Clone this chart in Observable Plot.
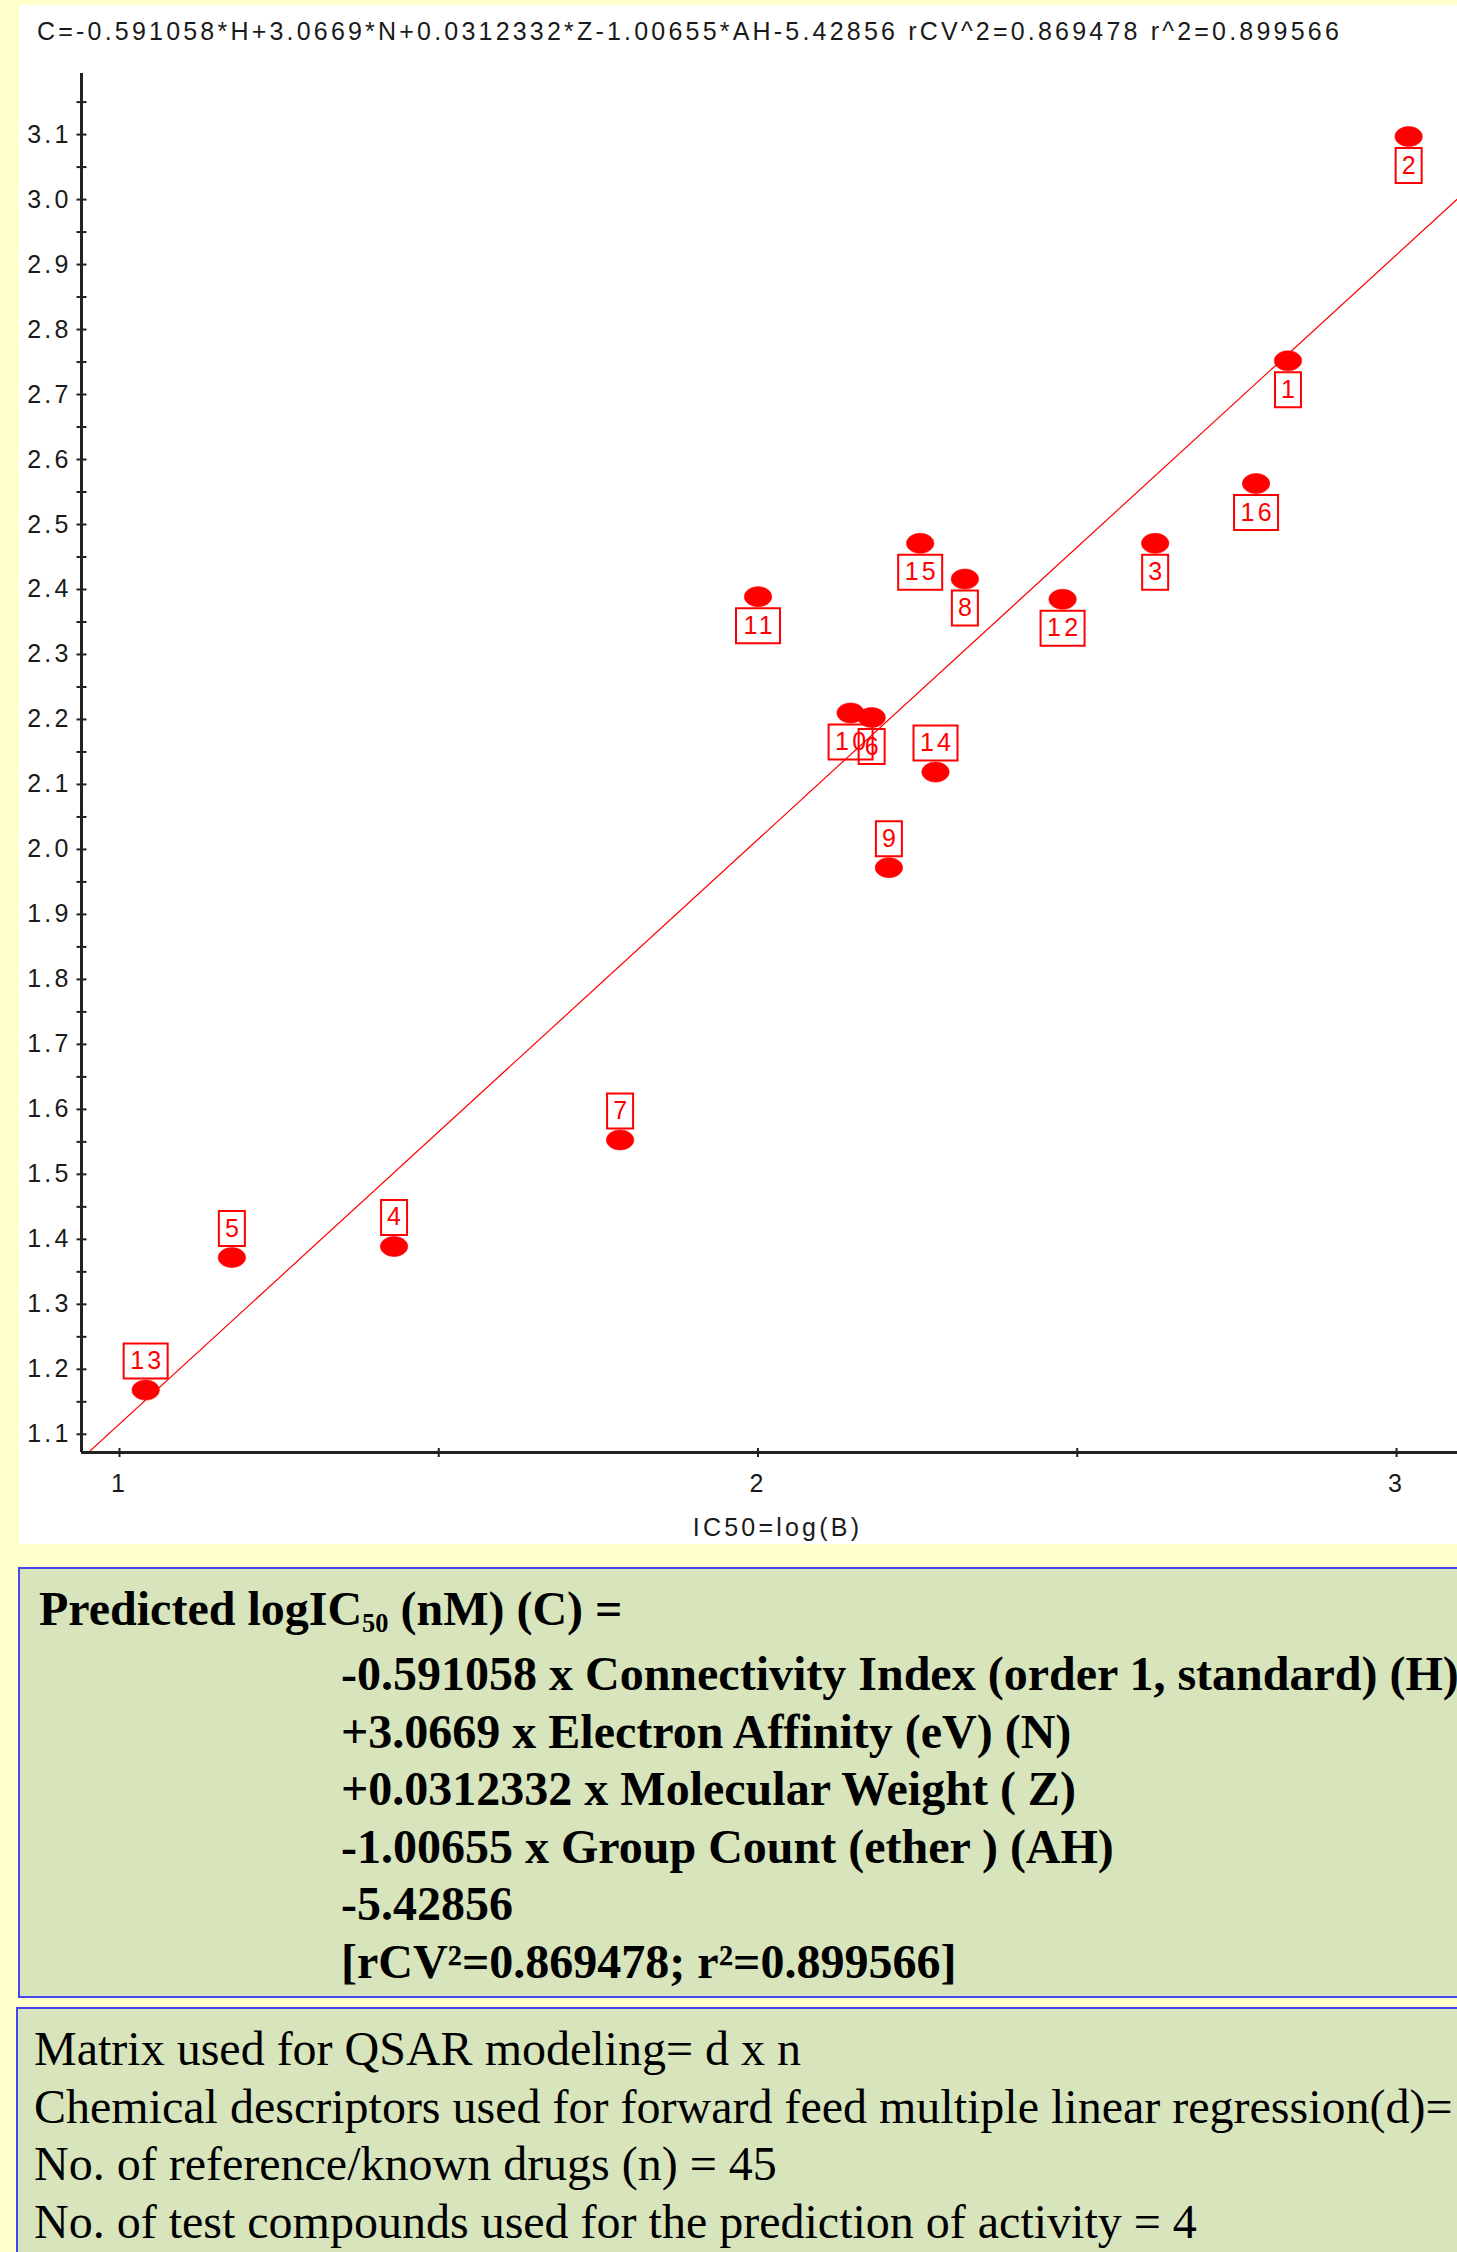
<!DOCTYPE html>
<html>
<head>
<meta charset="utf-8">
<script src="https://cdn.jsdelivr.net/npm/d3@7"></script>
<script src="https://cdn.jsdelivr.net/npm/@observablehq/plot@0.6"></script>
<style>
  html, body { margin:0; padding:0; overflow:hidden; width:1457px; height:2252px; background:#FFFFCC; }
  #page { position:relative; width:1457px; height:2252px; overflow:hidden; background:#FFFFCC; }
  #panel { position:absolute; left:19px; top:5px; width:1450px; height:1539px; background:#ffffff; }
  #title { position:absolute; left:37px; top:19px; font-family:"Liberation Sans", Arial, sans-serif; font-size:25px; line-height:25px; letter-spacing:3.2px; white-space:nowrap; color:#1a1a1a; }
  #chart { position:absolute; left:0; top:60px; }
  .box { position:absolute; box-sizing:border-box; background:#D8E4BC; border:2px solid #4646F0; width:1500px; }
  .serif { font-family:"Liberation Serif", "Times New Roman", serif; color:#000; white-space:nowrap; position:absolute; }
  .b1 { font-weight:bold; font-size:48px; }
  .b2 { font-weight:normal; font-size:48px; }
  sub.s { font-size:0.55em; vertical-align:-0.28em; line-height:0; }
</style>
</head>
<body>
<div id="page">
  <div id="panel"></div>
  <div id="title"></div>
  <div id="chart"></div>
  <div class="box" style="left:18px; top:1567px; height:431px;"></div>
  <div class="serif b1" id="eqHead" style="left:39px; top:1580px; line-height:58px;"></div>
  <div class="serif b1" id="eqLines" style="left:341px; top:1645px; line-height:57.6px;"></div>
  <div class="box" style="left:16px; top:2007px; height:300px;"></div>
  <div class="serif b2" id="infoLines" style="left:34px; top:2020px; line-height:57.7px;"></div>
</div>
<script>
// ---------- data ----------
const titleText = "C=-0.591058*H+3.0669*N+0.0312332*Z-1.00655*AH-5.42856 rCV^2=0.869478 r^2=0.899566";
const compoundIds = ["1","2","3","4","5","6","7","8","9","10","11","12","13","14","15","16"];
const observedLogIC50 = [2.830, 3.019, 2.622, 1.430, 1.176, 2.178, 1.784, 2.324, 2.205, 2.145, 2.000, 2.477, 1.041, 2.278, 2.254, 2.780];
const predictedLogIC50 = [2.752, 3.097, 2.471, 1.389, 1.372, 2.203, 1.553, 2.416, 1.972, 2.210, 2.389, 2.385, 1.168, 2.119, 2.471, 2.563];
const labelSide = ["below","below","below","above","above","below","above","below","above","below","below","below","above","above","below","below"];
const fitLineX = [0.9512, 3.0955];
const fitLineY = [1.072, 3.001];
const xDomain = [0.9405, 3.0955];
const yDomain = [1.072, 3.194];
const xTickValues = [1, 1.5, 2, 2.5, 3];
const xLabelValues = [1, 2, 3];
const xTickLabels = ["1", "2", "3"];
const yTickValues = [1.1,1.15,1.2,1.25,1.3,1.35,1.4,1.45,1.5,1.55,1.6,1.65,1.7,1.75,1.8,1.85,1.9,1.95,2.0,2.05,2.1,2.15,2.2,2.25,2.3,2.35,2.4,2.45,2.5,2.55,2.6,2.65,2.7,2.75,2.8,2.85,2.9,2.95,3.0,3.05,3.1,3.15];
const yLabelValues = [1.1,1.2,1.3,1.4,1.5,1.6,1.7,1.8,1.9,2.0,2.1,2.2,2.3,2.4,2.5,2.6,2.7,2.8,2.9,3.0,3.1];
const yTickLabels = ["1.1","1.2","1.3","1.4","1.5","1.6","1.7","1.8","1.9","2.0","2.1","2.2","2.3","2.4","2.5","2.6","2.7","2.8","2.9","3.0","3.1"];
const xAxisLabel = "IC50=log(B)";
const eqHeadHTML = 'Predicted logIC<sub class="s">50</sub> (nM) (C) =';
const eqLines = [
  "-0.591058 x Connectivity Index (order 1, standard) (H)",
  "+3.0669 x Electron Affinity (eV) (N)",
  "+0.0312332 x Molecular Weight ( Z)",
  "-1.00655 x Group Count (ether ) (AH)",
  "-5.42856",
  "[rCV\u00B2=0.869478; r\u00B2=0.899566]"
];
const infoLines = [
  "Matrix used for QSAR modeling= d x n",
  "Chemical descriptors used for forward feed multiple linear regression(d)=",
  "No. of reference/known drugs (n) = 45",
  "No. of test compounds used for the prediction of activity = 4"
];

// ---------- build tables ----------
const points = compoundIds.map((id, i) => ({id, x: observedLogIC50[i], y: predictedLogIC50[i], side: labelSide[i]}));
const fitLine = fitLineX.map((x, i) => ({x, y: fitLineY[i]}));

// ---------- custom symbols ----------
const ellipseSym = {draw(ctx) {
  const rx = 13.7, ry = 10, k = 0.5523;
  ctx.moveTo(rx, 0);
  ctx.bezierCurveTo(rx, ry * k, rx * k, ry, 0, ry);
  ctx.bezierCurveTo(-rx * k, ry, -rx, ry * k, -rx, 0);
  ctx.bezierCurveTo(-rx, -ry * k, -rx * k, -ry, 0, -ry);
  ctx.bezierCurveTo(rx * k, -ry, rx, -ry * k, rx, 0);
  ctx.closePath();
}};
const boxSym = (w, h) => ({draw(ctx) { ctx.rect(-w / 2, -h / 2, w, h); }});
const hTick = {draw(ctx) { ctx.moveTo(-5, 0); ctx.lineTo(5, 0); }};
const vTick = {draw(ctx) { ctx.moveTo(0, -4.5); ctx.lineTo(0, 4.5); }};

const off = 29;
const sel = (side, n) => points.filter(d => d.side === side && d.id.length === n);

const chart = Plot.plot({
  width: 1457,
  height: 1485,
  marginLeft: 81,
  marginRight: 0,
  marginTop: 13,
  marginBottom: 93,
  style: {background: "transparent", fontFamily: '"Liberation Sans", Arial, sans-serif', fontSize: "25px", letterSpacing: "3.2px", color: "#1a1a1a", overflow: "visible"},
  x: {domain: xDomain, ticks: xLabelValues, tickFormat: d => xTickLabels[xLabelValues.indexOf(d)], tickSize: 0, tickPadding: 22, label: null},
  y: {domain: yDomain, ticks: yLabelValues, tickFormat: d => yTickLabels[yLabelValues.findIndex(v => Math.abs(v - d) < 1e-9)], tickSize: 0, tickPadding: 10, label: null},
  marks: [
    Plot.line(fitLine, {x: "x", y: "y", stroke: "#ff0000", strokeWidth: 1.2, clip: true}),
    Plot.ruleX([xDomain[0]], {stroke: "#222", strokeWidth: 3}),
    Plot.ruleY([yDomain[0]], {stroke: "#222", strokeWidth: 3}),
    Plot.dot(yTickValues, {x: () => xDomain[0], y: d => d, symbol: hTick, stroke: "#222", strokeWidth: 2, fill: "none"}),
    Plot.dot(xTickValues, {x: d => d, y: () => yDomain[0], symbol: vTick, stroke: "#222", strokeWidth: 2, fill: "none"}),
    Plot.text([xAxisLabel], {frameAnchor: "bottom", dy: 83, dx: 8, lineAnchor: "bottom", text: d => d, fontSize: 25, fill: "#1a1a1a"}),
    Plot.dot(points, {x: "x", y: "y", symbol: ellipseSym, fill: "#ff0000", stroke: "#ff0000", strokeWidth: 0.6}),
    Plot.dot(sel("below", 1), {x: "x", y: "y", dy: off, symbol: boxSym(26, 35), stroke: "#ff0000", strokeWidth: 2, fill: "none"}),
    Plot.dot(sel("below", 2), {x: "x", y: "y", dy: off, symbol: boxSym(44, 35), stroke: "#ff0000", strokeWidth: 2, fill: "none"}),
    Plot.dot(sel("above", 1), {x: "x", y: "y", dy: -off, symbol: boxSym(26, 35), stroke: "#ff0000", strokeWidth: 2, fill: "none"}),
    Plot.dot(sel("above", 2), {x: "x", y: "y", dy: -off, symbol: boxSym(44, 35), stroke: "#ff0000", strokeWidth: 2, fill: "none"}),
    Plot.text(points.filter(d => d.side === "below"), {x: "x", y: "y", dy: off, dx: 1.6, text: "id", fill: "#ff0000", fontSize: 25, lineAnchor: "middle"}),
    Plot.text(points.filter(d => d.side === "above"), {x: "x", y: "y", dy: -off, dx: 1.6, text: "id", fill: "#ff0000", fontSize: 25, lineAnchor: "middle"})
  ]
});
document.getElementById("chart").appendChild(chart);

document.getElementById("title").textContent = titleText;
document.getElementById("eqHead").innerHTML = eqHeadHTML;
const eqDiv = document.getElementById("eqLines");
eqLines.forEach(t => { const d = document.createElement("div"); d.textContent = t; eqDiv.appendChild(d); });
const infoDiv = document.getElementById("infoLines");
infoLines.forEach(t => { const d = document.createElement("div"); d.textContent = t; infoDiv.appendChild(d); });
</script>
</body>
</html>
